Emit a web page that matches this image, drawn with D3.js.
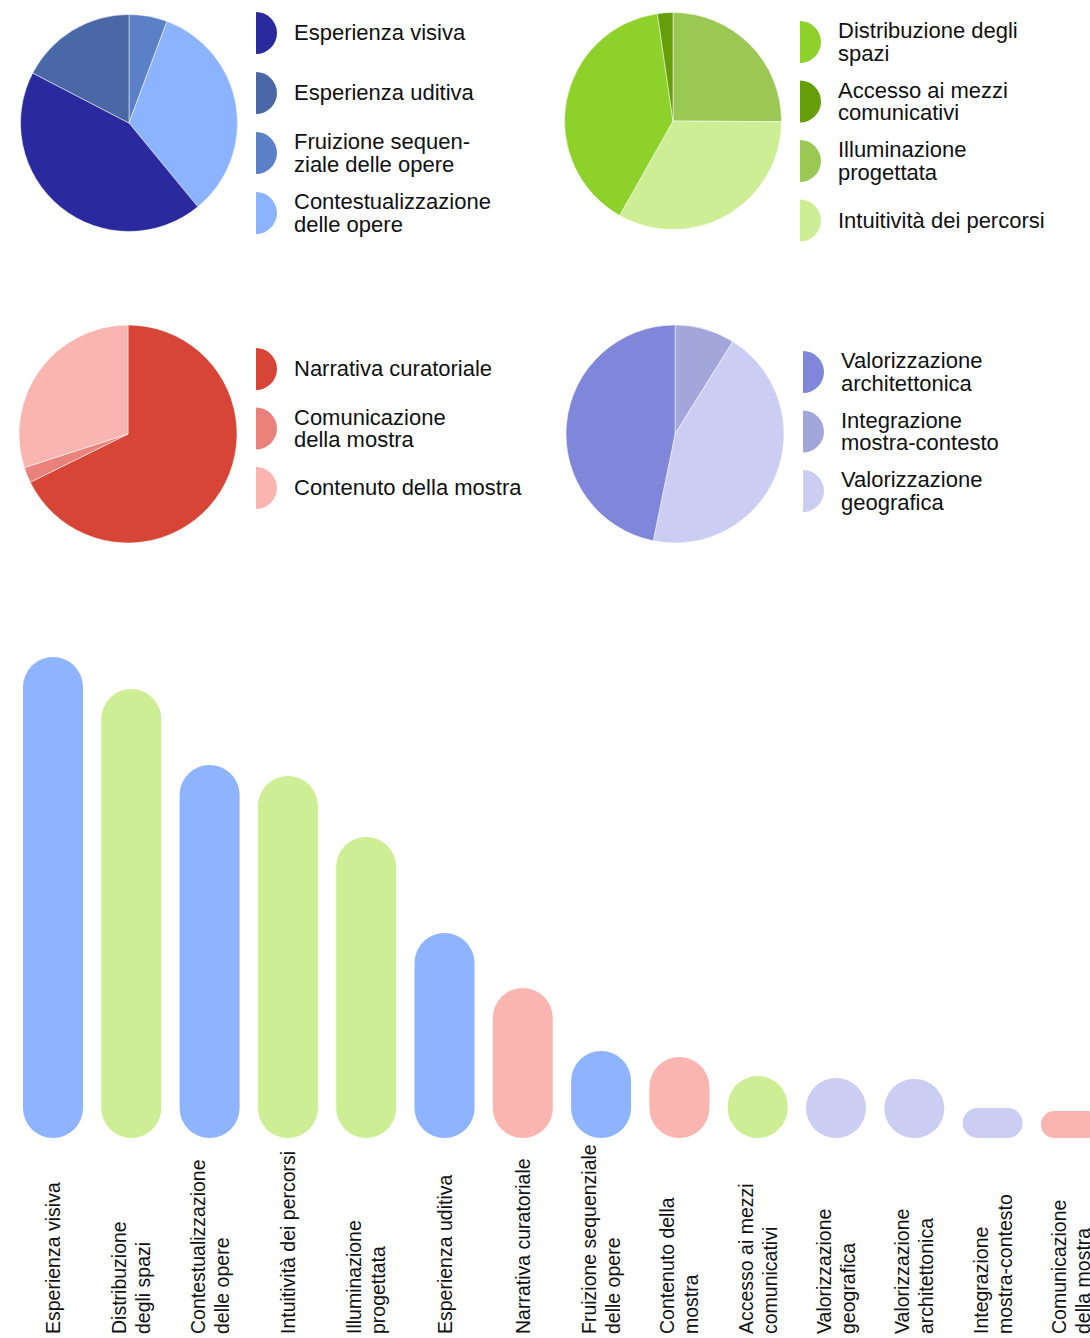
<!DOCTYPE html>
<html>
<head>
<meta charset="utf-8">
<script src="https://cdn.jsdelivr.net/npm/d3@7"></script>
<style>
  html, body { margin: 0; padding: 0; background: #fff; }
  svg { display: block; }
  text { font-family: "Liberation Sans", Arial, Helvetica, sans-serif; fill: #111; }
</style>
</head>
<body>
<script>
// ---------- DATA ----------
// Pie 1 (blue group)
const pie1Labels = [["Esperienza visiva"], ["Esperienza uditiva"], ["Fruizione sequen-", "ziale delle opere"], ["Contestualizzazione", "delle opere"]];
const pie1Values = [43.6, 17.4, 5.7, 33.4];
const pie1Colors = ["#2a2a9e", "#4a67a6", "#5b80c7", "#8cb3ff"];
const pie1Start = 2;

// Pie 2 (green group)
const pie2Labels = [["Distribuzione degli", "spazi"], ["Accesso ai mezzi", "comunicativi"], ["Illuminazione", "progettata"], ["Intuitività dei percorsi"]];
const pie2Values = [39.5, 2.3, 25.1, 33.1];
const pie2Colors = ["#8fd12b", "#669e0a", "#9bc855", "#cdee95"];
const pie2Start = 2;

// Pie 3 (red group)
const pie3Labels = [["Narrativa curatoriale"], ["Comunicazione", "della mostra"], ["Contenuto della mostra"]];
const pie3Values = [67.7, 2.3, 30.0];
const pie3Colors = ["#d64536", "#e8827a", "#fab5b0"];
const pie3Start = 0;

// Pie 4 (purple group)
const pie4Labels = [["Valorizzazione", "architettonica"], ["Integrazione", "mostra-contesto"], ["Valorizzazione", "geografica"]];
const pie4Values = [46.8, 8.9, 44.3];
const pie4Colors = ["#8086d9", "#a3a6db", "#cbcdf3"];
const pie4Start = 1;

// Bar chart
const barCategories = [
  "Esperienza visiva", "Distribuzione degli spazi", "Contestualizzazione delle opere",
  "Intuitività dei percorsi", "Illuminazione progettata", "Esperienza uditiva",
  "Narrativa curatoriale", "Fruizione sequenziale delle opere", "Contenuto della mostra",
  "Accesso ai mezzi comunicativi", "Valorizzazione geografica", "Valorizzazione architettonica",
  "Integrazione mostra-contesto", "Comunicazione della mostra"
];
const barLabelLines = [
  ["Esperienza visiva"], ["Distribuzione", "degli spazi"], ["Contestualizzazione", "delle opere"],
  ["Intuitività dei percorsi"], ["Illuminazione", "progettata"], ["Esperienza uditiva"],
  ["Narrativa curatoriale"], ["Fruizione sequenziale", "delle opere"], ["Contenuto della", "mostra"],
  ["Accesso ai mezzi", "comunicativi"], ["Valorizzazione", "geografica"], ["Valorizzazione", "architettonica"],
  ["Integrazione", "mostra-contesto"], ["Comunicazione", "della mostra"]
];
const barValues = [48.1, 44.9, 37.3, 36.2, 30.1, 20.5, 15.0, 8.7, 8.1, 6.2, 6.0, 5.9, 3.0, 2.7];
const barGroups = ["blue", "green", "blue", "green", "green", "blue", "red", "blue", "red", "green", "purple", "purple", "purple", "red"];
const groupColors = { blue: "#8eb3ff", green: "#cdee95", red: "#fab5b0", purple: "#cbcdf3" };

// ---------- DRAW ----------
const W = 1090, H = 1338;
const svg = d3.select("body").append("svg").attr("width", W).attr("height", H);

function drawPie(labels, values, colors, startIdx, cx, cy, r, lx, ly0, lstep) {
  const n = values.length;
  const order = d3.range(n).map(i => (i + startIdx) % n);
  const items = order.map(i => ({ v: values[i], c: colors[i] }));
  const pie = d3.pie().sort(null).value(d => d.v);
  const arc = d3.arc().innerRadius(0).outerRadius(r);
  const g = svg.append("g").attr("transform", `translate(${cx},${cy})`);
  g.selectAll("path").data(pie(items)).join("path")
    .attr("d", arc).attr("fill", d => d.data.c)
    .attr("stroke", "#fff").attr("stroke-width", 0.5);

  // legend
  const lg = svg.append("g");
  const mr = 21;
  const halfArc = d3.arc().innerRadius(0).outerRadius(mr).startAngle(0).endAngle(Math.PI);
  labels.forEach((lines, i) => {
    const y = ly0 + i * lstep;
    lg.append("path").attr("d", halfArc()).attr("transform", `translate(${lx},${y})`).attr("fill", colors[i]);
    const t = lg.append("text").attr("x", lx + 38).attr("y", y).attr("font-size", 22);
    const lh = 22.5;
    lines.forEach((ln, j) => {
      t.append("tspan").attr("x", lx + 38)
        .attr("y", y + (j - (lines.length - 1) / 2) * lh)
        .attr("dy", "0.34em").text(ln);
    });
  });
}

drawPie(pie1Labels, pie1Values, pie1Colors, pie1Start, 129, 123, 108.5, 256, 33, 60);
drawPie(pie2Labels, pie2Values, pie2Colors, pie2Start, 673, 121, 108.5, 800, 42, 59.5);
drawPie(pie3Labels, pie3Values, pie3Colors, pie3Start, 128, 434, 109, 256, 369, 59.5);
drawPie(pie4Labels, pie4Values, pie4Colors, pie4Start, 675, 434, 109, 803, 372, 59.5);

// bars
const n = barCategories.length;
const step = 78.3, bw = 60;
const pad = (step - bw) / step;
const x = d3.scaleBand().domain(barCategories)
  .range([23, 23 + step * (n - pad)]).paddingInner(pad).paddingOuter(0);
const y = d3.scaleLinear().domain([0, d3.max(barValues)]).range([1138, 657]);

const bg = svg.append("g");
bg.selectAll("rect").data(barCategories).join("rect")
  .attr("x", d => x(d))
  .attr("y", (d, i) => y(barValues[i]))
  .attr("width", x.bandwidth())
  .attr("height", (d, i) => y(0) - y(barValues[i]))
  .attr("rx", (d, i) => Math.min(x.bandwidth() / 2, (y(0) - y(barValues[i])) / 2))
  .attr("fill", (d, i) => groupColors[barGroups[i]]);

// rotated labels
const labelBottom = 1334;
const llh = 24;
barCategories.forEach((c, i) => {
  const cxp = x(c) + x.bandwidth() / 2;
  const lines = barLabelLines[i];
  const t = svg.append("text")
    .attr("transform", `translate(${cxp},${labelBottom}) rotate(-90)`)
    .attr("text-anchor", "start")
    .attr("font-size", 19.5);
  lines.forEach((ln, j) => {
    t.append("tspan").attr("x", 0)
      .attr("y", (j - (lines.length - 1) / 2) * llh)
      .attr("dy", "0.36em").text(ln);
  });
});
</script>
</body>
</html>
